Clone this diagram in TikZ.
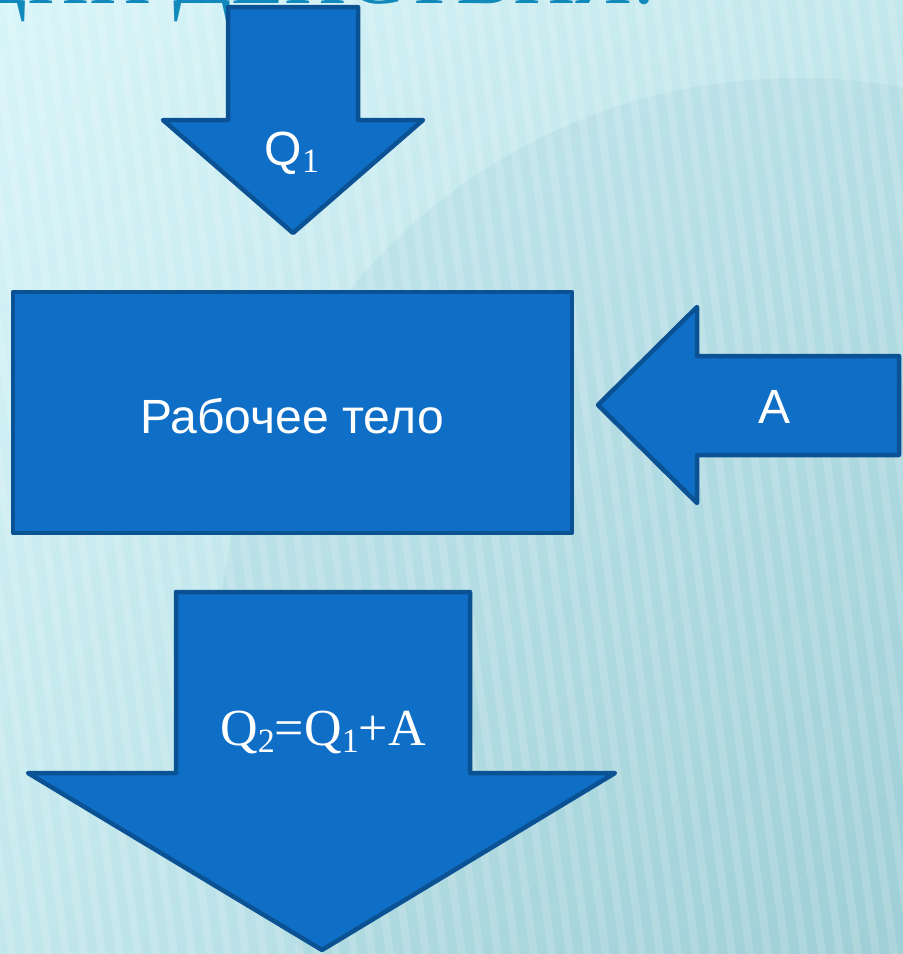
\documentclass[tikz,border=0pt]{standalone}
\usepackage{fontspec}
\setmainfont{Liberation Sans}
\newfontfamily\serifface{Liberation Serif}
\usepackage{xcolor}
\definecolor{arrowblue}{HTML}{0F6FC6}
\definecolor{edgeblue}{HTML}{0B5294}
\definecolor{titleteal}{HTML}{1189BB}
\definecolor{paleaqua}{HTML}{D8F5F9}
\definecolor{midaqua}{HTML}{C2E7EC}
\definecolor{deepaqua}{HTML}{9FCFD7}
\usepackage{tikz}
\usetikzlibrary{positioning, shadings}

% lowered subscript that scales with the label font
\newcommand{\qsub}[1]{\raisebox{-0.15em}{\fontsize{34}{34}\selectfont #1}}

\tikzset{
  blockarrow/.style={fill=arrowblue, draw=edgeblue, line width=4.5pt, line join=round},
  whitelabel/.style={text=white, inner sep=0pt, font=\fontsize{48}{52}\selectfont},
}

\begin{document}
\begin{tikzpicture}[x=1pt, y=-1pt]
  \useasboundingbox (0,0) rectangle (903,954);
  \clip (0,0) rectangle (903,954);

  % Background: pale aqua with slanted stripes
  \shade[upper left=paleaqua, upper right=midaqua, lower left=midaqua, lower right=deepaqua]
    (0,0) rectangle (903,954);
  \fill[deepaqua, opacity=0.25] (797,656) circle (578);
  \foreach \x in {-140,-122,...,920}
    \fill[white, opacity=0.15] (\x,0) -- ++(8,0) -- ++(130,954) -- ++(-8,0) -- cycle;

  % Title, cut off at the top edge
  \node[anchor=base east, inner sep=0pt, text=titleteal,
        font=\serifface\fontsize{86}{90}\selectfont] (title) at (655,3) {ПРИНЦИП ДЕЙСТВИЯ.};

  % Heat in
  \draw[blockarrow] (228,7) -- (358,7) -- (358,120) -- (423,120) -- (293,233)
    -- (163,120) -- (228,120) -- cycle;
  \node[whitelabel, anchor=base] (heatin) at (292,165) {Q\qsub{\serifface 1}};

  % Working body
  \draw[blockarrow] (13,292) rectangle (572,533);
  \node[whitelabel, anchor=base] (body) at (292,433) {Рабочее тело};

  % Work
  \draw[blockarrow] (598,405) -- (697,307) -- (697,356) -- (899,356) -- (899,455)
    -- (697,455) -- (697,503) -- cycle;
  \node[whitelabel, anchor=base] (work) at (775,423) {A};

  % Heat out
  \draw[blockarrow] (176,592) -- (470,592) -- (470,773) -- (615,773) -- (322,950)
    -- (28,773) -- (176,773) -- cycle;
  \node[whitelabel, anchor=base, font=\serifface\fontsize{52}{56}\selectfont] (heatout) at (323,745)
    {Q\qsub{2}=Q\qsub{1}+A};
\end{tikzpicture}
\end{document}
